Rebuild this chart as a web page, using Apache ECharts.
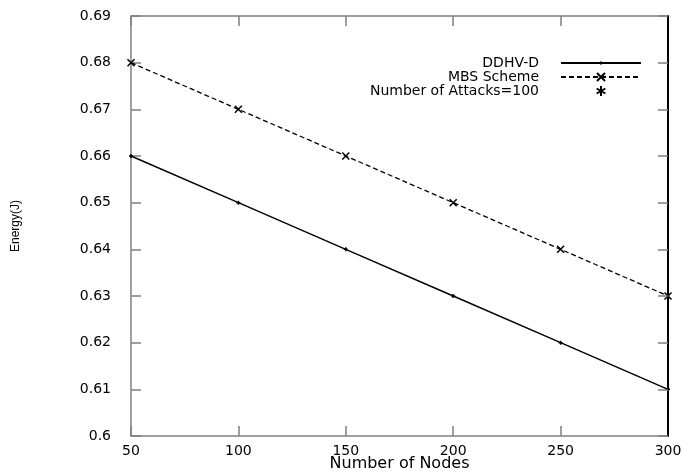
<!DOCTYPE html>
<html>
<head>
<meta charset="utf-8">
<script src="https://cdn.jsdelivr.net/npm/echarts@6/dist/echarts.min.js"></script>
<style>
html, body { margin: 0; padding: 0; background: #fff; }
#chart { width: 695px; height: 473px; }
</style>
</head>
<body>
<div id="chart"></div>
<script>
// data
var nodes = [50, 100, 150, 200, 250, 300];
var ddhvD = [0.66, 0.65, 0.64, 0.63, 0.62, 0.61];
var mbsScheme = [0.68, 0.67, 0.66, 0.65, 0.64, 0.63];
var yTicks = { min: 0.6, max: 0.69, step: 0.01 };
var xTicks = { min: 50, max: 300, step: 50 };

var plusMark = 'path://M0,0M10,10M5,3L5,7M3,5L7,5';
var crossMark = 'path://M0,0L8,8M8,0L0,8';
var starMark = 'path://M5,1L5,9M1.5,3L8.5,7M1.5,7L8.5,3';

var font = 'DejaVu Sans';
var grey = '#808080';

function pairs(xs, ys) {
	var out = [];
	for (var i = 0; i < xs.length; i++) {
		out.push([xs[i], ys[i]]);
	}
	return out;
}

// grey frame axis with inward ticks, used for the mirrored sides too
function frameAxis(extra) {
	var axis = {
		type : 'value',
		axisLine : {
			lineStyle : {
				color : grey,
				width : 1.5
			}
		},
		axisTick : {
			inside : true,
			length : 10,
			lineStyle : {
				color : grey,
				width : 1.5
			}
		},
		axisLabel : {
			show : false
		},
		splitLine : {
			show : false
		}
	};
	for (var k in extra) {
		axis[k] = extra[k];
	}
	return axis;
}

var chart = echarts.init(document.getElementById('chart'));

var option = {
	animation : false,
	backgroundColor : '#fff',
	grid : {
		left : 131,
		right : 27,
		top : 16,
		bottom : 37,
		outerBoundsMode : 'none'
	},
	legend : {
		orient : 'vertical',
		align : 'right',
		right : 48,
		top : 51,
		itemWidth : 80,
		itemHeight : 10,
		itemGap : 0,
		textStyle : {
			fontFamily : font,
			fontSize : 14,
			lineHeight : 13,
			color : '#000',
			padding : [0, 17, 0, 0]
		},
		data : [{
					name : 'DDHV-D'
				}, {
					name : 'MBS Scheme'
				}, {
					name : 'Number of Attacks=100',
					icon : starMark
				}]
	},
	xAxis : [frameAxis({
				min : xTicks.min,
				max : xTicks.max,
				interval : xTicks.step,
				name : 'Number of Nodes',
				nameLocation : 'middle',
				nameGap : 20,
				nameMoveOverlap : false,
				nameTextStyle : {
					fontFamily : font,
					fontSize : 16,
					color : '#000'
				},
				axisLabel : {
					margin : 8,
					fontFamily : font,
					fontSize : 14,
					color : '#000'
				}
			}), frameAxis({
				position : 'top',
				min : xTicks.min,
				max : xTicks.max,
				interval : xTicks.step
			})],
	yAxis : [frameAxis({
				min : yTicks.min,
				max : yTicks.max,
				interval : yTicks.step,
				name : 'Energy(J)',
				nameLocation : 'middle',
				nameGap : 109,
				nameRotate : 90,
				nameMoveOverlap : false,
				nameTextStyle : {
					fontFamily : 'Liberation Sans',
					fontSize : 12,
					color : '#000'
				},
				axisLabel : {
					margin : 20,
					fontFamily : font,
					fontSize : 14,
					color : '#000'
				}
			}), frameAxis({
				position : 'right',
				min : yTicks.min,
				max : yTicks.max,
				interval : yTicks.step,
				z : 5,
				axisLine : {
					lineStyle : {
						color : '#000',
						width : 2
					}
				}
			})],
	series : [{
				name : 'DDHV-D',
				type : 'line',
				data : pairs(nodes, ddhvD),
				symbol : plusMark,
				symbolSize : 10,
				itemStyle : {
					color : '#000',
					borderColor : '#000',
					borderWidth : 1.5
				},
				lineStyle : {
					color : '#000',
					width : 1.5
				},
				z : 3
			}, {
				name : 'MBS Scheme',
				type : 'line',
				data : pairs(nodes, mbsScheme),
				symbol : crossMark,
				symbolSize : 7,
				itemStyle : {
					color : '#000',
					borderColor : '#000',
					borderWidth : 1.5
				},
				lineStyle : {
					color : '#000',
					width : 1.3,
					type : [5, 3]
				},
				z : 3
			}, {
				name : 'Number of Attacks=100',
				type : 'line',
				data : [],
				symbol : starMark,
				itemStyle : {
					color : '#000',
					borderColor : '#000',
					borderWidth : 1
				},
				lineStyle : {
					color : 'rgba(0,0,0,0)',
					width : 0
				}
			}]
};

chart.setOption(option);
</script>
</body>
</html>
